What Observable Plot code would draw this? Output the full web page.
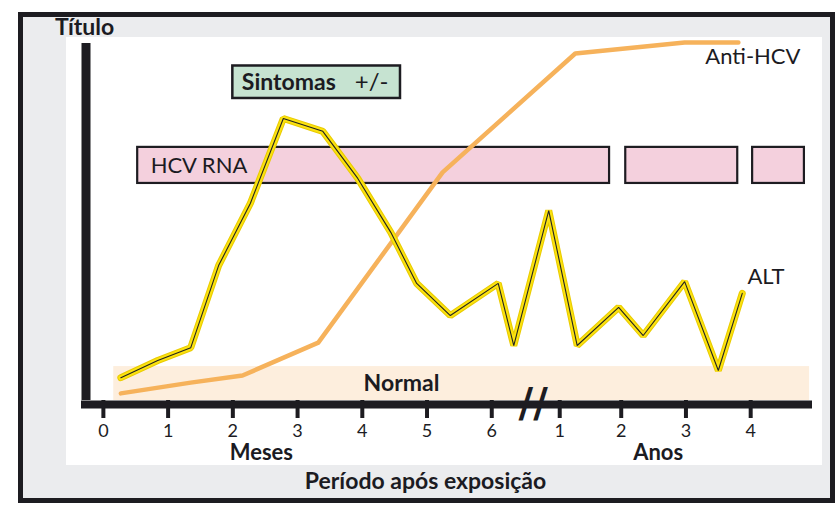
<!DOCTYPE html>
<html>
<head>
<meta charset="utf-8">
<script src="https://cdn.jsdelivr.net/npm/d3@7"></script>
<script src="https://cdn.jsdelivr.net/npm/@observablehq/plot@0.6"></script>
<style>
  html, body { margin: 0; padding: 0; background: #ffffff; }
  #wrap { position: relative; width: 837px; height: 513px; overflow: hidden; font-family: Lato, "Open Sans", sans-serif; color: #1b1b22; }
  #outer { position: absolute; left: 18px; top: 12px; width: 807px; height: 481px; border: 5px solid #1d1c21; background: #ebecee; }
  #panel { position: absolute; left: 66px; top: 37px; width: 756px; height: 428px; background: #ffffff; }
  #title { position: absolute; left: 55px; top: 13px; font: 700 23px/26px Lato, sans-serif; color: #1b1b22; }
  #footer { position: absolute; left: 0; top: 467px; width: 851px; text-align: center; font: 700 23px/26px Lato, sans-serif; color: #1b1b22; }
  #chart { position: absolute; left: 0; top: 0; }
</style>
</head>
<body>
<div id="wrap">
  <div id="outer"></div>
  <div id="panel"></div>
  <div id="title">Título</div>
  <div id="chart"></div>
  <div id="footer">Período após exposição</div>
</div>
<script>
// ---- Data (x = position on the time axis: months 0–6, then years after the break) ----
const tickPos    = [0, 1, 2, 3, 4, 5, 6, 7.05, 8, 9, 10];
const tickLabels = ["0", "1", "2", "3", "4", "5", "6", "1", "2", "3", "4"];
const groupNames = ["Meses", "Anos"];
const groupPos   = [2.44, 8.57];
const breakPos   = [6.64];

// ALT curve
const altX = [0.27, 0.84, 1.35, 1.78, 2.27, 2.78, 3.39, 3.93, 4.44, 4.84, 5.36, 6.10, 6.34, 6.88, 7.32, 7.96, 8.34, 8.98, 9.50, 9.87];
const altY = [6.4, 11.2, 14.8, 37.8, 55.2, 79.0, 75.4, 62.2, 47.1, 32.8, 23.8, 32.8, 15.4, 53.2, 15.4, 26.1, 18.2, 33.3, 8.4, 30.0];

// Anti-HCV curve
const antiX = [0.27, 1.35, 2.15, 3.32, 5.24, 7.29, 8.98, 9.81];
const antiY = [2.0, 5.0, 7.0, 16.2, 63.9, 97.2, 100.3, 100.3];

// HCV RNA detection periods
const rnaStart = [0.53, 8.07, 10.03];
const rnaEnd   = [7.82, 9.80, 10.83];
const rnaLow = 60.8, rnaHigh = 70.9;

// Symptoms box
const symStart = [2.0], symEnd = [4.59], symLow = [84.6], symHigh = [93.7];

// Normal range band
const normStart = [0.16], normEnd = [10.91], normLow = [0], normHigh = [9.5];

// Labels
const labelTexts = ["HCV RNA", "Anti-HCV", "ALT"];
const labelX = [0.73, 9.30, 9.95];
const labelY = [65.8, 96.1, 34.5];

const xDomain = [-0.338, 10.955];
const yDomain = [0, 100];

// ---- Build tables ----
const alt = altX.map((x, i) => ({x, y: altY[i]}));
const anti = antiX.map((x, i) => ({x, y: antiY[i]}));
const rna = rnaStart.map((s, i) => ({s, e: rnaEnd[i], lo: rnaLow, hi: rnaHigh}));
const sym = symStart.map((s, i) => ({s, e: symEnd[i], lo: symLow[i], hi: symHigh[i]}));
const norm = normStart.map((s, i) => ({s, e: normEnd[i], lo: normLow[i], hi: normHigh[i]}));
const labels = labelTexts.map((t, i) => ({t, x: labelX[i], y: labelY[i]}));
const groups = groupNames.map((t, i) => ({t, x: groupPos[i], y: -14.8}));
const tickLabelMap = new Map(tickPos.map((p, i) => [p, tickLabels[i]]));

const ink = "#1d1c21";
const font = "Lato, 'Open Sans', sans-serif";

const chart = Plot.plot({
  width: 837,
  height: 513,
  marginLeft: 81,
  marginRight: 25,
  marginTop: 43,
  marginBottom: 113,
  style: {background: "transparent", fontFamily: font, overflow: "visible"},
  x: {domain: xDomain, axis: null},
  y: {domain: yDomain, axis: null},
  marks: [
    // Normal range
    Plot.rect(norm, {x1: "s", x2: "e", y1: "lo", y2: "hi", fill: "#fdeedd"}),
    Plot.text(norm, {x: d => (d.s + d.e) / 2 - 0.93, y: d => (d.lo + d.hi) / 2 + 0.1, text: () => "Normal", fontSize: 23, fontWeight: 700, fill: "#1b1b22", fontFamily: font}),
    // HCV RNA bars
    Plot.rect(rna, {x1: "s", x2: "e", y1: "lo", y2: "hi", fill: "#f4d0dd", stroke: ink, strokeWidth: 2.2}),
    // Symptoms box
    Plot.rect(sym, {x1: "s", x2: "e", y1: "lo", y2: "hi", fill: "#c6e3d1", stroke: ink, strokeWidth: 2.5}),
    Plot.text(sym, {x: "s", y: d => (d.lo + d.hi) / 2, dx: 9, text: () => "Sintomas", textAnchor: "start", fontSize: 23, fontWeight: 700, fill: "#1b1b22", fontFamily: font}),
    Plot.text(sym, {x: "e", y: d => (d.lo + d.hi) / 2, dx: -12, text: () => "+/-", textAnchor: "end", fontSize: 24, fontWeight: 400, fill: "#1b1b22", fontFamily: font}),
    // Series labels
    Plot.text(labels, {x: "x", y: "y", text: "t", textAnchor: "start", fontSize: 22, fill: "#1b1b22", fontFamily: font}),
    // Anti-HCV
    Plot.line(anti, {x: "x", y: "y", stroke: "#f6b25b", strokeWidth: 4.5, strokeLinejoin: "round"}),
    // ALT
    Plot.line(alt, {x: "x", y: "y", stroke: "#e9cb00", strokeWidth: 7, strokeLinejoin: "miter"}),
    Plot.line(alt, {x: "x", y: "y", stroke: "#fbe20f", strokeWidth: 5, strokeLinejoin: "miter"}),
    Plot.line(alt, {x: "x", y: "y", stroke: "#222222", strokeWidth: 1.1, strokeLinejoin: "miter"}),
    // Axes
    Plot.axisX(tickPos, {tickSize: 18, tickPadding: 6, strokeWidth: 4, stroke: ink, fill: "#1c1c24",
      tickFormat: d => tickLabelMap.get(d), fontSize: 18, fontFamily: font, fontWeight: 400}),
    Plot.ruleY([yDomain[0]], {dy: 4, stroke: ink, strokeWidth: 8}),
    Plot.ruleX([xDomain[0]], {dx: 4.5, stroke: ink, strokeWidth: 9}),
    // Axis break
    Plot.text(breakPos, {x: d => d, y: yDomain[0], dy: 4, text: () => "//", fontSize: 40, fontWeight: 700, fill: ink, fontFamily: "'DejaVu Sans'"}),
    // Group labels
    Plot.text(groups, {x: "x", y: "y", text: "t", fontSize: 22, fontWeight: 700, fill: "#1b1b22", fontFamily: font})
  ]
});
document.getElementById("chart").appendChild(chart);
</script>
</body>
</html>
